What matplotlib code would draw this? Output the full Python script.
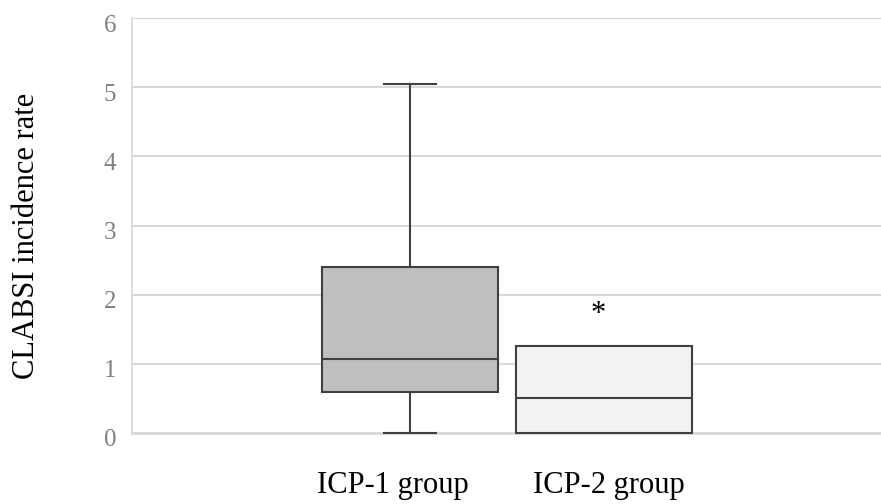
import matplotlib
matplotlib.use("Agg")
import matplotlib.pyplot as plt
import matplotlib.transforms as mtransforms

groups = ["ICP-1 group", "ICP-2 group"]
whisker_low = [0.0, 0.0]
q1 = [0.59, 0.0]
median = [1.07, 0.51]
q3 = [2.40, 1.26]
whisker_high = [5.04, 1.26]
fills = ["#bfbfbf", "#f2f2f2"]
yticks = [0, 1, 2, 3, 4, 5, 6]

plt.rcParams['font.family'] = ['Liberation Serif', 'DejaVu Serif']

fig = plt.figure(figsize=(8.81, 5.04), dpi=100)
ax = fig.add_axes([132/881, 1-433/504, 1-132/881, (433-18)/504])

positions = [1, 2]
stats = []
for i in range(2):
    stats.append(dict(whislo=whisker_low[i], q1=q1[i], med=median[i], q3=q3[i], whishi=whisker_high[i], label=groups[i]))

edge = "#404040"
bp = ax.bxp(stats, positions=positions, widths=0.907, patch_artist=True, showfliers=False,
            boxprops=dict(edgecolor=edge, linewidth=1.5),
            medianprops=dict(color=edge, linewidth=1.5),
            whiskerprops=dict(color=edge, linewidth=1.5),
            capprops=dict(color=edge, linewidth=1.5),
            capwidths=[0.268, 0.0], manage_ticks=False, zorder=3)
for patch, c in zip(bp['boxes'], fills):
    patch.set_facecolor(c)
for art in bp['boxes'] + bp['medians'] + bp['whiskers'] + bp['caps']:
    art.set_clip_on(False)

ax.set_xlim(1 - 278/194, 2 + 277/194)
ax.set_ylim(0, 6)
ax.set_yticks(yticks)
ax.yaxis.grid(True, color="#d9d9d9", linewidth=1.5, zorder=0)
ax.set_axisbelow(True)
for s in ["top", "right"]:
    ax.spines[s].set_visible(False)
ax.spines["left"].set_color("#d9d9d9")
ax.spines["left"].set_linewidth(1.2)
ax.spines["bottom"].set_color("#d9d9d9")
ax.spines["bottom"].set_linewidth(2)
ax.tick_params(axis="y", length=0, pad=11.5, labelsize=18, labelcolor="#808080")
offset = mtransforms.ScaledTranslation(0, -5/100, fig.dpi_scale_trans)
for lab in ax.get_yticklabels():
    lab.set_transform(lab.get_transform() + offset)
ax.set_xticks([1 - 17/194, 2 + 5/194])
ax.set_xticklabels(groups)
ax.tick_params(axis="x", length=0, pad=27, labelsize=22, labelcolor="black")
ax.set_ylabel("CLABSI incidence rate", fontsize=22)
ax.yaxis.set_label_coords(-0.1215, 0.475)

ax.text(2 - 6/194, 1.71, "*", fontsize=22, ha="center", va="center")

fig.savefig("out.png", dpi=100)
